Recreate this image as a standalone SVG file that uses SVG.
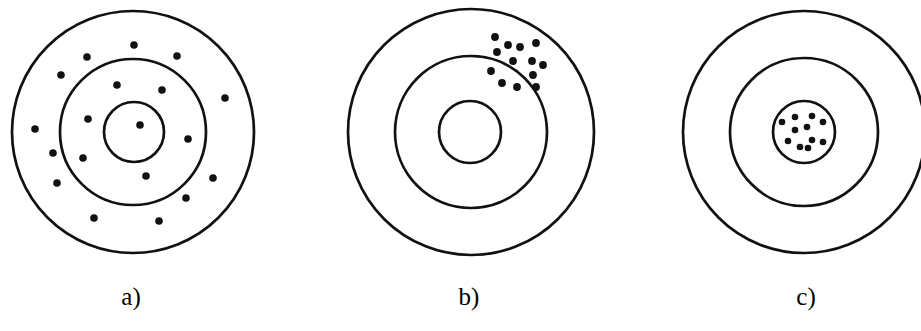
<svg xmlns="http://www.w3.org/2000/svg" width="921" height="331" viewBox="0 0 921 331">
<style>
.ring{fill:none;stroke:#111;stroke-width:2.7}
.dot{fill:#111}
.lbl{font-family:"Liberation Serif","Times New Roman",serif;font-size:25px;fill:#000;text-anchor:middle}
</style>
<rect width="921" height="331" fill="#fff"/>
<g id="target-a">
<circle class="ring" cx="133" cy="132" r="121"/>
<circle class="ring" cx="133" cy="132" r="73"/>
<circle class="ring" cx="134" cy="132" r="30"/>
<g class="dot">
<circle cx="134" cy="45" r="3.8"/><circle cx="87" cy="57" r="3.8"/><circle cx="177" cy="56" r="3.8"/>
<circle cx="61" cy="75" r="3.8"/><circle cx="117" cy="85" r="3.8"/><circle cx="162" cy="90" r="3.8"/>
<circle cx="225" cy="98" r="3.8"/><circle cx="88" cy="119" r="3.8"/><circle cx="140" cy="125" r="3.8"/>
<circle cx="35" cy="129" r="3.8"/><circle cx="188" cy="139" r="3.8"/><circle cx="53" cy="153" r="3.8"/>
<circle cx="83" cy="158" r="3.8"/><circle cx="146" cy="176" r="3.8"/><circle cx="213" cy="178" r="3.8"/>
<circle cx="57" cy="183" r="3.8"/><circle cx="186" cy="198" r="3.8"/><circle cx="94" cy="218" r="3.8"/>
<circle cx="159" cy="221" r="3.8"/>
</g>
<text class="lbl" x="131" y="305">a)</text>
</g>
<g id="target-b">
<circle class="ring" cx="471" cy="132" r="123"/>
<circle class="ring" cx="471" cy="132" r="76"/>
<circle class="ring" cx="470" cy="132" r="31"/>
<g class="dot">
<circle cx="495" cy="37" r="3.9"/><circle cx="508" cy="45" r="3.9"/><circle cx="520" cy="47" r="3.9"/>
<circle cx="536" cy="43" r="3.9"/><circle cx="497" cy="52" r="3.9"/><circle cx="513" cy="61" r="3.9"/>
<circle cx="532" cy="61" r="3.9"/><circle cx="543" cy="65" r="3.9"/><circle cx="491" cy="71" r="3.9"/>
<circle cx="502" cy="83" r="3.9"/><circle cx="517" cy="87" r="3.9"/><circle cx="533" cy="75" r="3.9"/>
<circle cx="536" cy="87" r="3.9"/>
</g>
<text class="lbl" x="469" y="305">b)</text>
</g>
<g id="target-c">
<circle class="ring" cx="804" cy="132" r="121"/>
<circle class="ring" cx="804" cy="132" r="74"/>
<circle class="ring" cx="804" cy="132" r="31"/>
<g class="dot">
<circle cx="795" cy="117" r="3.3"/><circle cx="812" cy="116" r="3.3"/><circle cx="823" cy="122" r="3.3"/>
<circle cx="782" cy="122" r="3.3"/><circle cx="795" cy="130" r="3.3"/><circle cx="807" cy="127" r="3.3"/>
<circle cx="788" cy="141" r="3.3"/><circle cx="800" cy="147" r="3.3"/><circle cx="812" cy="140" r="3.3"/>
<circle cx="823" cy="142" r="3.3"/><circle cx="808" cy="148" r="3.3"/>
</g>
<text class="lbl" x="806" y="305">c)</text>
</g>
</svg>
